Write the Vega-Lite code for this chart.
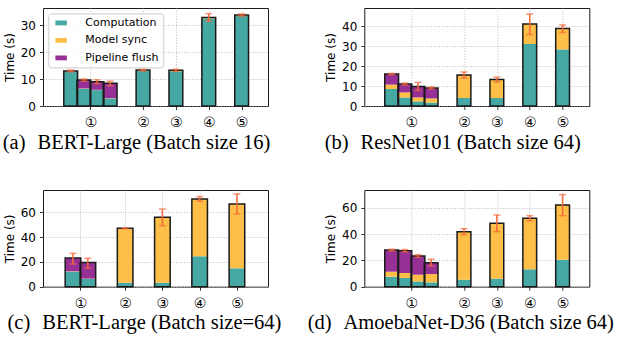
{
  "$schema": "https://vega.github.io/schema/vega-lite/v6.json",
  "background": "white",
  "padding": {"left": 2, "top": 7, "right": 5, "bottom": 5},
  "datasets": {
    "seg": [
      {"p":"a","x":-0.6,"part":"Computation","v":12.9},{"p":"a","x":-0.6,"part":"Model sync","v":0.1},
      {"p":"a","x":-0.2,"part":"Computation","v":6.4},{"p":"a","x":-0.2,"part":"Model sync","v":0.1},{"p":"a","x":-0.2,"part":"Pipeline flush","v":3.1},
      {"p":"a","x":0.2,"part":"Computation","v":5.9},{"p":"a","x":0.2,"part":"Model sync","v":0.1},{"p":"a","x":0.2,"part":"Pipeline flush","v":3.0},
      {"p":"a","x":0.6,"part":"Computation","v":2.8},{"p":"a","x":0.6,"part":"Model sync","v":0.1},{"p":"a","x":0.6,"part":"Pipeline flush","v":5.5},
      {"p":"a","x":1.6,"part":"Computation","v":13.0},{"p":"a","x":1.6,"part":"Model sync","v":0.3},
      {"p":"a","x":2.6,"part":"Computation","v":12.9},{"p":"a","x":2.6,"part":"Model sync","v":0.3},
      {"p":"a","x":3.6,"part":"Computation","v":32.4},{"p":"a","x":3.6,"part":"Model sync","v":0.4},
      {"p":"a","x":4.6,"part":"Computation","v":33.3},{"p":"a","x":4.6,"part":"Model sync","v":0.4},

      {"p":"b","x":-0.6,"part":"Computation","v":8.5},{"p":"b","x":-0.6,"part":"Model sync","v":2.2},{"p":"b","x":-0.6,"part":"Pipeline flush","v":5.3},
      {"p":"b","x":-0.2,"part":"Computation","v":4.3},{"p":"b","x":-0.2,"part":"Model sync","v":2.5},{"p":"b","x":-0.2,"part":"Pipeline flush","v":4.2},
      {"p":"b","x":0.2,"part":"Computation","v":2.3},{"p":"b","x":0.2,"part":"Model sync","v":2.0},{"p":"b","x":0.2,"part":"Pipeline flush","v":5.5},
      {"p":"b","x":0.6,"part":"Computation","v":1.7},{"p":"b","x":0.6,"part":"Model sync","v":2.1},{"p":"b","x":0.6,"part":"Pipeline flush","v":5.2},
      {"p":"b","x":1.6,"part":"Computation","v":4.0},{"p":"b","x":1.6,"part":"Model sync","v":11.5},
      {"p":"b","x":2.6,"part":"Computation","v":4.0},{"p":"b","x":2.6,"part":"Model sync","v":9.2},
      {"p":"b","x":3.6,"part":"Computation","v":31.0},{"p":"b","x":3.6,"part":"Model sync","v":10.0},
      {"p":"b","x":4.6,"part":"Computation","v":28.3},{"p":"b","x":4.6,"part":"Model sync","v":10.5},

      {"p":"c","x":-0.2,"part":"Computation","v":12.1},{"p":"c","x":-0.2,"part":"Model sync","v":0.3},{"p":"c","x":-0.2,"part":"Pipeline flush","v":10.7},
      {"p":"c","x":0.2,"part":"Computation","v":6.2},{"p":"c","x":0.2,"part":"Model sync","v":0.3},{"p":"c","x":0.2,"part":"Pipeline flush","v":13.1},
      {"p":"c","x":1.2,"part":"Computation","v":3.2},{"p":"c","x":1.2,"part":"Model sync","v":43.9},
      {"p":"c","x":2.2,"part":"Computation","v":3.2},{"p":"c","x":2.2,"part":"Model sync","v":52.8},
      {"p":"c","x":3.2,"part":"Computation","v":24.5},{"p":"c","x":3.2,"part":"Model sync","v":46.3},
      {"p":"c","x":4.2,"part":"Computation","v":14.8},{"p":"c","x":4.2,"part":"Model sync","v":51.9},

      {"p":"d","x":-0.6,"part":"Computation","v":7.6},{"p":"d","x":-0.6,"part":"Model sync","v":3.8},{"p":"d","x":-0.6,"part":"Pipeline flush","v":16.4},
      {"p":"d","x":-0.2,"part":"Computation","v":6.6},{"p":"d","x":-0.2,"part":"Model sync","v":3.8},{"p":"d","x":-0.2,"part":"Pipeline flush","v":16.9},
      {"p":"d","x":0.2,"part":"Computation","v":4.0},{"p":"d","x":0.2,"part":"Model sync","v":5.1},{"p":"d","x":0.2,"part":"Pipeline flush","v":14.2},
      {"p":"d","x":0.6,"part":"Computation","v":3.3},{"p":"d","x":0.6,"part":"Model sync","v":6.3},{"p":"d","x":0.6,"part":"Pipeline flush","v":8.6},
      {"p":"d","x":1.6,"part":"Computation","v":5.3},{"p":"d","x":1.6,"part":"Model sync","v":36.5},
      {"p":"d","x":2.6,"part":"Computation","v":6.1},{"p":"d","x":2.6,"part":"Model sync","v":42.0},
      {"p":"d","x":3.6,"part":"Computation","v":13.2},{"p":"d","x":3.6,"part":"Model sync","v":38.7},
      {"p":"d","x":4.6,"part":"Computation","v":20.5},{"p":"d","x":4.6,"part":"Model sync","v":41.5}
    ],
    "err": [
      {"p":"a","x":-0.6,"t":13.0,"lo":12.7,"hi":13.3},
      {"p":"a","x":-0.2,"t":9.6,"lo":9.2,"hi":10.0},
      {"p":"a","x":0.2,"t":9.0,"lo":8.3,"hi":9.7},
      {"p":"a","x":0.6,"t":8.4,"lo":7.5,"hi":9.2},
      {"p":"a","x":1.6,"t":13.3,"lo":13.0,"hi":13.6},
      {"p":"a","x":2.6,"t":13.2,"lo":12.8,"hi":13.6},
      {"p":"a","x":3.6,"t":32.8,"lo":31.4,"hi":34.2},
      {"p":"a","x":4.6,"t":33.7,"lo":33.3,"hi":34.1},

      {"p":"b","x":-0.6,"t":16.0,"lo":15.7,"hi":16.3},
      {"p":"b","x":-0.2,"t":11.0,"lo":10.5,"hi":11.5},
      {"p":"b","x":0.2,"t":9.8,"lo":7.8,"hi":11.8},
      {"p":"b","x":0.6,"t":9.0,"lo":8.5,"hi":9.5},
      {"p":"b","x":1.6,"t":15.5,"lo":14.0,"hi":17.0},
      {"p":"b","x":2.6,"t":13.2,"lo":12.0,"hi":14.4},
      {"p":"b","x":3.6,"t":41.0,"lo":35.7,"hi":46.0},
      {"p":"b","x":4.6,"t":38.8,"lo":36.8,"hi":40.5},

      {"p":"c","x":-0.2,"t":23.1,"lo":18.3,"hi":26.9},
      {"p":"c","x":0.2,"t":19.6,"lo":15.1,"hi":22.9},
      {"p":"c","x":1.2,"t":47.1,"lo":46.7,"hi":47.5},
      {"p":"c","x":2.2,"t":56.0,"lo":49.2,"hi":62.7},
      {"p":"c","x":3.2,"t":70.8,"lo":68.9,"hi":72.7},
      {"p":"c","x":4.2,"t":66.7,"lo":58.7,"hi":74.8},

      {"p":"d","x":-0.6,"t":27.8,"lo":27.2,"hi":28.4},
      {"p":"d","x":-0.2,"t":27.3,"lo":26.4,"hi":28.2},
      {"p":"d","x":0.2,"t":23.3,"lo":22.3,"hi":24.3},
      {"p":"d","x":0.6,"t":18.2,"lo":15.7,"hi":20.8},
      {"p":"d","x":1.6,"t":41.8,"lo":39.5,"hi":44.0},
      {"p":"d","x":2.6,"t":48.1,"lo":41.8,"hi":54.4},
      {"p":"d","x":3.6,"t":51.9,"lo":50.1,"hi":53.9},
      {"p":"d","x":4.6,"t":62.0,"lo":53.9,"hi":69.9}
    ]
  },
  "columns": 2,
  "bounds": "flush",
  "spacing": {"row": 84, "column": 96.3},
  "concat": [
    {
      "width": 225, "height": 98,
      "title": {"text": "(a)\u2002\u200aBERT-Large (Batch size 16)", "orient": "bottom", "anchor": "middle", "frame": "group", "dx": -19, "offset": 3},
      "layer": [
        {"data": {"name": "seg"}, "transform": [{"filter": "datum.p === 'a'"}],
         "mark": {"type": "bar", "width": 13.8},
         "encoding": {
           "x": {"field": "x", "type": "quantitative", "title": null, "scale": {"domain": [-1.29, 5.25], "nice": false, "zero": false},
                 "axis": {"values": [0, 1.6, 2.6, 3.6, 4.6], "labelExpr": "datum.value < 0.6 ? '①' : datum.value < 1.9 ? '②' : datum.value < 2.9 ? '③' : datum.value < 3.9 ? '④' : '⑤'"}},
           "y": {"field": "v", "type": "quantitative", "stack": "zero", "title": "Time (s)", "scale": {"domain": [0, 36.3], "nice": false}, "axis": {"values": [0, 10, 20, 30], "labelOverlap": false, "labelSeparation": 0}},
           "order": {"field": "part", "type": "nominal", "sort": "ascending"},
           "color": {"field": "part", "type": "nominal",
                     "scale": {"domain": ["Computation", "Model sync", "Pipeline flush"], "range": ["#45a8a2", "#fdbf48", "#962f96"]},
                     "legend": {"orient": "none", "legendX": 5.3, "legendY": 5.4, "title": null, "symbolType": "M-0.5,-0.5H1.9V0.5H-0.5Z", "symbolSize": 92, "symbolStrokeWidth": 0, "symbolOpacity": 1, "labelFont": "DejaVu Sans", "labelFontSize": 11, "labelColor": "black", "labelOffset": 22, "rowPadding": 5.5, "padding": 4, "fillColor": "rgba(255,255,255,0.8)", "strokeColor": "#cccccc", "cornerRadius": 3}}
         }},
        {"data": {"name": "err"}, "transform": [{"filter": "datum.p === 'a'"}],
         "mark": {"type": "bar", "width": 13.8, "fill": "transparent", "stroke": "#1a1a1a", "strokeWidth": 1.5},
         "encoding": {"x": {"field": "x", "type": "quantitative", "title": null}, "y": {"field": "t", "type": "quantitative", "title": "Time (s)", "axis": {"values": [0, 10, 20, 30], "labelOverlap": false, "labelSeparation": 0}}}},
        {"data": {"name": "err"}, "transform": [{"filter": "datum.p === 'a'"}],
         "mark": {"type": "rule", "color": "#f4683a", "strokeWidth": 1.5},
         "encoding": {"x": {"field": "x", "type": "quantitative", "title": null}, "y": {"field": "lo", "type": "quantitative", "title": "Time (s)", "axis": {"values": [0, 10, 20, 30], "labelOverlap": false, "labelSeparation": 0}}, "y2": {"field": "hi"}}},
        {"data": {"name": "err"}, "transform": [{"filter": "datum.p === 'a'"}],
         "mark": {"type": "tick", "orient": "horizontal", "size": 7, "thickness": 1.5, "color": "#f4683a"},
         "encoding": {"x": {"field": "x", "type": "quantitative", "title": null}, "y": {"field": "lo", "type": "quantitative", "title": "Time (s)", "axis": {"values": [0, 10, 20, 30], "labelOverlap": false, "labelSeparation": 0}}}},
        {"data": {"name": "err"}, "transform": [{"filter": "datum.p === 'a'"}],
         "mark": {"type": "tick", "orient": "horizontal", "size": 7, "thickness": 1.5, "color": "#f4683a"},
         "encoding": {"x": {"field": "x", "type": "quantitative", "title": null}, "y": {"field": "hi", "type": "quantitative", "title": "Time (s)", "axis": {"values": [0, 10, 20, 30], "labelOverlap": false, "labelSeparation": 0}}}}
      ]
    },
    {
      "width": 225, "height": 98,
      "title": {"text": "(b)\u2002\u200aResNet101 (Batch size 64)", "orient": "bottom", "anchor": "middle", "frame": "group", "dx": -24, "offset": 3},
      "layer": [
        {"data": {"name": "seg"}, "transform": [{"filter": "datum.p === 'b'"}],
         "mark": {"type": "bar", "width": 13.8},
         "encoding": {
           "x": {"field": "x", "type": "quantitative", "title": null, "scale": {"domain": [-1.28, 5.26], "nice": false, "zero": false},
                 "axis": {"values": [0, 1.6, 2.6, 3.6, 4.6], "labelExpr": "datum.value < 0.6 ? '①' : datum.value < 1.9 ? '②' : datum.value < 2.9 ? '③' : datum.value < 3.9 ? '④' : '⑤'"}},
           "y": {"field": "v", "type": "quantitative", "stack": "zero", "title": "Time (s)", "scale": {"domain": [0, 49], "nice": false}, "axis": {"values": [0, 10, 20, 30, 40], "labelOverlap": false, "labelSeparation": 0}},
           "order": {"field": "part", "type": "nominal", "sort": "ascending"},
           "color": {"field": "part", "type": "nominal",
                     "scale": {"domain": ["Computation", "Model sync", "Pipeline flush"], "range": ["#45a8a2", "#fdbf48", "#962f96"]},
                     "legend": null}
         }},
        {"data": {"name": "err"}, "transform": [{"filter": "datum.p === 'b'"}],
         "mark": {"type": "bar", "width": 13.8, "fill": "transparent", "stroke": "#1a1a1a", "strokeWidth": 1.5},
         "encoding": {"x": {"field": "x", "type": "quantitative", "title": null}, "y": {"field": "t", "type": "quantitative", "title": "Time (s)", "axis": {"values": [0, 10, 20, 30, 40], "labelOverlap": false, "labelSeparation": 0}}}},
        {"data": {"name": "err"}, "transform": [{"filter": "datum.p === 'b'"}],
         "mark": {"type": "rule", "color": "#f4683a", "strokeWidth": 1.5},
         "encoding": {"x": {"field": "x", "type": "quantitative", "title": null}, "y": {"field": "lo", "type": "quantitative", "title": "Time (s)", "axis": {"values": [0, 10, 20, 30, 40], "labelOverlap": false, "labelSeparation": 0}}, "y2": {"field": "hi"}}},
        {"data": {"name": "err"}, "transform": [{"filter": "datum.p === 'b'"}],
         "mark": {"type": "tick", "orient": "horizontal", "size": 7, "thickness": 1.5, "color": "#f4683a"},
         "encoding": {"x": {"field": "x", "type": "quantitative", "title": null}, "y": {"field": "lo", "type": "quantitative", "title": "Time (s)", "axis": {"values": [0, 10, 20, 30, 40], "labelOverlap": false, "labelSeparation": 0}}}},
        {"data": {"name": "err"}, "transform": [{"filter": "datum.p === 'b'"}],
         "mark": {"type": "tick", "orient": "horizontal", "size": 7, "thickness": 1.5, "color": "#f4683a"},
         "encoding": {"x": {"field": "x", "type": "quantitative", "title": null}, "y": {"field": "hi", "type": "quantitative", "title": "Time (s)", "axis": {"values": [0, 10, 20, 30, 40], "labelOverlap": false, "labelSeparation": 0}}}}
      ]
    },
    {
      "width": 225, "height": 96.7,
      "title": {"text": "(c)\u2002\u200aBERT-Large (Batch size=64)", "orient": "bottom", "anchor": "middle", "frame": "group", "dx": -11, "offset": 3},
      "layer": [
        {"data": {"name": "seg"}, "transform": [{"filter": "datum.p === 'c'"}],
         "mark": {"type": "bar", "width": 15.6},
         "encoding": {
           "x": {"field": "x", "type": "quantitative", "title": null, "scale": {"domain": [-0.87, 4.9], "nice": false, "zero": false},
                 "axis": {"values": [0, 1.2, 2.2, 3.2, 4.2], "labelExpr": "datum.value < 0.6 ? '①' : datum.value < 1.9 ? '②' : datum.value < 2.9 ? '③' : datum.value < 3.9 ? '④' : '⑤'"}},
           "y": {"field": "v", "type": "quantitative", "stack": "zero", "title": "Time (s)", "scale": {"domain": [0, 78], "nice": false}, "axis": {"values": [0, 20, 40, 60], "labelOverlap": false, "labelSeparation": 0}},
           "order": {"field": "part", "type": "nominal", "sort": "ascending"},
           "color": {"field": "part", "type": "nominal",
                     "scale": {"domain": ["Computation", "Model sync", "Pipeline flush"], "range": ["#45a8a2", "#fdbf48", "#962f96"]},
                     "legend": null}
         }},
        {"data": {"name": "err"}, "transform": [{"filter": "datum.p === 'c'"}],
         "mark": {"type": "bar", "width": 15.6, "fill": "transparent", "stroke": "#1a1a1a", "strokeWidth": 1.5},
         "encoding": {"x": {"field": "x", "type": "quantitative", "title": null}, "y": {"field": "t", "type": "quantitative", "title": "Time (s)", "axis": {"values": [0, 20, 40, 60], "labelOverlap": false, "labelSeparation": 0}}}},
        {"data": {"name": "err"}, "transform": [{"filter": "datum.p === 'c'"}],
         "mark": {"type": "rule", "color": "#f4683a", "strokeWidth": 1.5},
         "encoding": {"x": {"field": "x", "type": "quantitative", "title": null}, "y": {"field": "lo", "type": "quantitative", "title": "Time (s)", "axis": {"values": [0, 20, 40, 60], "labelOverlap": false, "labelSeparation": 0}}, "y2": {"field": "hi"}}},
        {"data": {"name": "err"}, "transform": [{"filter": "datum.p === 'c'"}],
         "mark": {"type": "tick", "orient": "horizontal", "size": 7, "thickness": 1.5, "color": "#f4683a"},
         "encoding": {"x": {"field": "x", "type": "quantitative", "title": null}, "y": {"field": "lo", "type": "quantitative", "title": "Time (s)", "axis": {"values": [0, 20, 40, 60], "labelOverlap": false, "labelSeparation": 0}}}},
        {"data": {"name": "err"}, "transform": [{"filter": "datum.p === 'c'"}],
         "mark": {"type": "tick", "orient": "horizontal", "size": 7, "thickness": 1.5, "color": "#f4683a"},
         "encoding": {"x": {"field": "x", "type": "quantitative", "title": null}, "y": {"field": "hi", "type": "quantitative", "title": "Time (s)", "axis": {"values": [0, 20, 40, 60], "labelOverlap": false, "labelSeparation": 0}}}}
      ]
    },
    {
      "width": 225, "height": 96.7,
      "title": {"text": "(d)\u2002\u200aAmoebaNet-D36 (Batch size 64)", "orient": "bottom", "anchor": "middle", "frame": "group", "dx": -16, "offset": 3},
      "layer": [
        {"data": {"name": "seg"}, "transform": [{"filter": "datum.p === 'd'"}],
         "mark": {"type": "bar", "width": 13.8},
         "encoding": {
           "x": {"field": "x", "type": "quantitative", "title": null, "scale": {"domain": [-1.28, 5.26], "nice": false, "zero": false},
                 "axis": {"values": [0, 1.6, 2.6, 3.6, 4.6], "labelExpr": "datum.value < 0.6 ? '①' : datum.value < 1.9 ? '②' : datum.value < 2.9 ? '③' : datum.value < 3.9 ? '④' : '⑤'"}},
           "y": {"field": "v", "type": "quantitative", "stack": "zero", "title": "Time (s)", "scale": {"domain": [0, 73.4], "nice": false}, "axis": {"values": [0, 20, 40, 60], "labelOverlap": false, "labelSeparation": 0}},
           "order": {"field": "part", "type": "nominal", "sort": "ascending"},
           "color": {"field": "part", "type": "nominal",
                     "scale": {"domain": ["Computation", "Model sync", "Pipeline flush"], "range": ["#45a8a2", "#fdbf48", "#962f96"]},
                     "legend": null}
         }},
        {"data": {"name": "err"}, "transform": [{"filter": "datum.p === 'd'"}],
         "mark": {"type": "bar", "width": 13.8, "fill": "transparent", "stroke": "#1a1a1a", "strokeWidth": 1.5},
         "encoding": {"x": {"field": "x", "type": "quantitative", "title": null}, "y": {"field": "t", "type": "quantitative", "title": "Time (s)", "axis": {"values": [0, 20, 40, 60], "labelOverlap": false, "labelSeparation": 0}}}},
        {"data": {"name": "err"}, "transform": [{"filter": "datum.p === 'd'"}],
         "mark": {"type": "rule", "color": "#f4683a", "strokeWidth": 1.5},
         "encoding": {"x": {"field": "x", "type": "quantitative", "title": null}, "y": {"field": "lo", "type": "quantitative", "title": "Time (s)", "axis": {"values": [0, 20, 40, 60], "labelOverlap": false, "labelSeparation": 0}}, "y2": {"field": "hi"}}},
        {"data": {"name": "err"}, "transform": [{"filter": "datum.p === 'd'"}],
         "mark": {"type": "tick", "orient": "horizontal", "size": 7, "thickness": 1.5, "color": "#f4683a"},
         "encoding": {"x": {"field": "x", "type": "quantitative", "title": null}, "y": {"field": "lo", "type": "quantitative", "title": "Time (s)", "axis": {"values": [0, 20, 40, 60], "labelOverlap": false, "labelSeparation": 0}}}},
        {"data": {"name": "err"}, "transform": [{"filter": "datum.p === 'd'"}],
         "mark": {"type": "tick", "orient": "horizontal", "size": 7, "thickness": 1.5, "color": "#f4683a"},
         "encoding": {"x": {"field": "x", "type": "quantitative", "title": null}, "y": {"field": "hi", "type": "quantitative", "title": "Time (s)", "axis": {"values": [0, 20, 40, 60], "labelOverlap": false, "labelSeparation": 0}}}}
      ]
    }
  ],
  "config": {
    "view": {"stroke": "#1a1a1a", "strokeWidth": 1},
    "title": {"font": "Liberation Serif", "fontSize": 20.5, "fontWeight": "normal", "color": "black"},
    "axis": {
      "labelFont": "DejaVu Sans", "labelFontSize": 12, "labelColor": "black",
      "titleFont": "DejaVu Sans", "titleFontSize": 12, "titleFontWeight": "normal", "titleColor": "black",
      "domain": false, "tickColor": "black", "tickSize": 3.5, "tickWidth": 0.8,
      "grid": true, "gridColor": "#b0b0b0", "gridDash": [1, 1.65], "gridWidth": 0.8,
      "labelOverlap": false
    },
    "axisX": {"labelFontSize": 14, "labelPadding": 6, "labelAngle": 0},
    "axisY": {"labelPadding": 4, "titlePadding": 4}
  }
}
